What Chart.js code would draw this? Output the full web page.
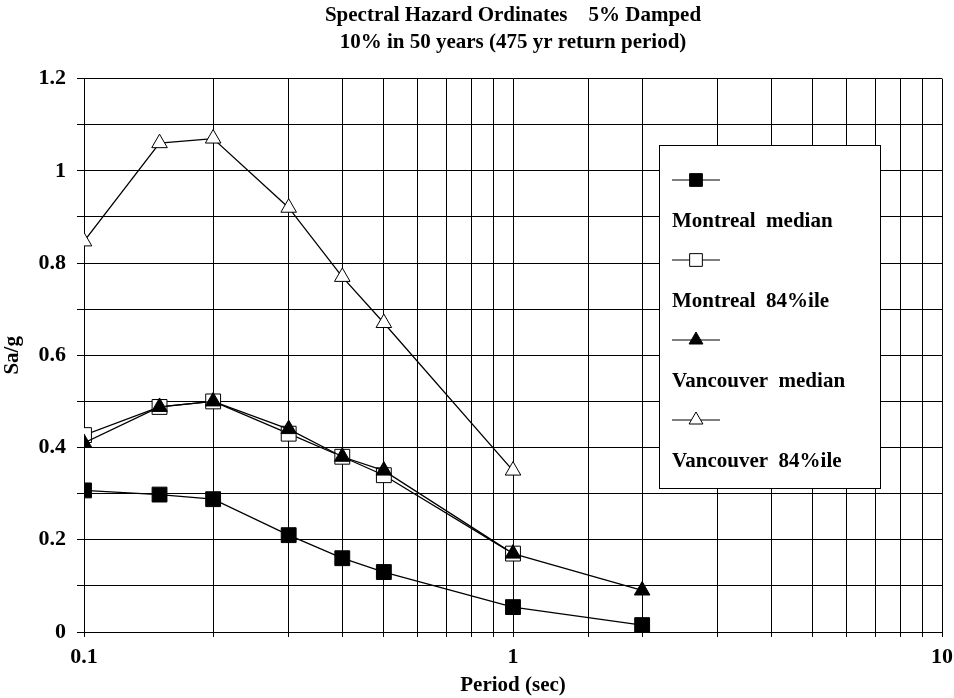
<!DOCTYPE html>
<html>
<head>
<meta charset="utf-8">
<script src="https://cdn.jsdelivr.net/npm/chart.js@4.4.1/dist/chart.umd.min.js"></script>
<style>
  html, body { margin: 0; padding: 0; background: #fff; }
  #wrap { width: 954px; height: 698px; }
</style>
</head>
<body>
<div id="wrap"><canvas id="chart" width="954" height="698"></canvas></div>
<script>
// ── Data ──────────────────────────────────────────────────────
const periods          = [0.1, 0.15, 0.2, 0.3, 0.4, 0.5, 1, 2];
const montrealMedian   = [0.307, 0.298, 0.288, 0.21, 0.16, 0.13, 0.054, 0.015];
const montreal84       = [0.427, 0.488, 0.50, 0.43, 0.38, 0.34, 0.17];
const vancouverMedian  = [0.41, 0.488, 0.50, 0.44, 0.38, 0.35, 0.17, 0.09];
const vancouver84      = [0.847, 1.06, 1.07, 0.92, 0.77, 0.67, 0.35];
const seriesNames      = ["Montreal  median", "Montreal  84%ile", "Vancouver  median", "Vancouver  84%ile"];
const titleLines       = ["Spectral Hazard Ordinates    5% Damped", "10% in 50 years (475 yr return period)"];

const FONT = "'Liberation Serif', 'Times New Roman', serif";

const toPoints = vals => vals.map((v, i) => ({ x: periods[i], y: v }));

// ── Marker styles ─────────────────────────────────────────────
const markers = [
    { pointStyle: "rect",     radius: 10.5, fill: "#000" },
    { pointStyle: "rect",     radius: 10.5, fill: "#fff" },
    { pointStyle: "triangle", radius: 9,    fill: "#000" },
    { pointStyle: "triangle", radius: 9,    fill: "#fff" }
];

function makeDataset(label, vals, idx, order) {
    const m = markers[idx];
    return {
        label,
        data: toPoints(vals),
        borderColor: "#000",
        borderWidth: 1.3,
        pointStyle: m.pointStyle,
        pointRadius: m.radius,
        pointBackgroundColor: m.fill,
        pointBorderColor: "#000",
        pointBorderWidth: 1,
        fill: false,
        tension: 0,
        order
    };
}

// ── Custom legend (marker above label, as in the original) ────
const boxLegend = {
    id: "boxLegend",
    afterDraw(chart) {
        const ctx = chart.ctx;
        const bx = 659, by = 145, bw = 221, bh = 343;
        ctx.save();
        ctx.fillStyle = "#fff";
        ctx.fillRect(bx, by, bw, bh);
        ctx.strokeStyle = "#000";
        ctx.lineWidth = 1;
        ctx.strokeRect(bx + 0.5, by + 0.5, bw, bh);

        ctx.font = "bold 21px " + FONT;
        ctx.textBaseline = "middle";
        chart.data.datasets.forEach((ds, i) => {
            const my = by + 35 + i * 80;
            ctx.beginPath();
            ctx.moveTo(672, my);
            ctx.lineTo(720, my);
            ctx.strokeStyle = "#000";
            ctx.lineWidth = 1;
            ctx.stroke();
            ctx.fillStyle = ds.pointBackgroundColor;
            ctx.strokeStyle = "#000";
            Chart.helpers.drawPoint(ctx, {
                pointStyle: ds.pointStyle,
                radius: ds.pointStyle === "rect" ? 9 : 8,
                rotation: 0,
                borderWidth: 1
            }, 696, my);
            ctx.fillStyle = "#000";
            ctx.fillText(seriesNames[i], 672, my + 42);
        });
        ctx.restore();
    }
};

const whiteBg = {
    id: "whiteBg",
    beforeDraw(chart) {
        const ctx = chart.ctx;
        ctx.save();
        ctx.fillStyle = "#fff";
        ctx.fillRect(0, 0, chart.width, chart.height);
        ctx.restore();
    }
};

// ── Chart ─────────────────────────────────────────────────────
new Chart(document.getElementById("chart"), {
    type: "line",
    data: {
        datasets: [
            makeDataset(seriesNames[0], montrealMedian, 0, 4),
            makeDataset(seriesNames[1], montreal84, 1, 3),
            makeDataset(seriesNames[2], vancouverMedian, 2, 2),
            makeDataset(seriesNames[3], vancouver84, 3, 1)
        ]
    },
    plugins: [whiteBg, boxLegend],
    options: {
        responsive: false,
        animation: false,
        layout: { padding: { left: 0, right: 12, top: 0, bottom: 0 } },
        plugins: {
            legend: { display: false },
            tooltip: { enabled: false },
            title: {
                display: true,
                text: titleLines,
                fullSize: false,
                color: "#000",
                font: { family: FONT, size: 21, weight: "bold", lineHeight: 1.3 },
                padding: { top: 2, bottom: 22 }
            }
        },
        scales: {
            x: {
                type: "logarithmic",
                min: 0.1,
                max: 10,
                afterFit: s => { s.height = 66; s.paddingLeft = 0; s.paddingRight = 0; },
                grid: { color: "#000", lineWidth: 1, tickLength: 5, drawTicks: true },
                border: { color: "#000", width: 1 },
                ticks: {
                    color: "#000",
                    font: { family: FONT, size: 22, weight: "bold" },
                    maxRotation: 0,
                    autoSkip: false,
                    padding: 7,
                    callback: v => {
                        const l = Math.log10(v);
                        return Math.abs(l - Math.round(l)) < 1e-9 ? String(v) : "";
                    }
                },
                title: {
                    display: true,
                    text: "Period (sec)",
                    color: "#000",
                    font: { family: FONT, size: 21, weight: "bold" },
                    padding: { top: -4, bottom: 0 }
                }
            },
            y: {
                min: 0,
                max: 1.2,
                afterFit: s => { s.width = 84; },
                grid: { color: "#000", lineWidth: 1, tickLength: 7 },
                border: { color: "#000", width: 1 },
                ticks: {
                    stepSize: 0.1,
                    color: "#000",
                    font: { family: FONT, size: 22, weight: "bold" },
                    padding: 11,
                    callback: v => {
                        const k = Math.round(v * 10);
                        return k % 2 === 0 ? String(k / 10) : "";
                    }
                },
                title: {
                    display: true,
                    text: "Sa/g",
                    color: "#000",
                    font: { family: FONT, size: 21, weight: "bold" },
                    padding: { top: 0, bottom: 0 }
                }
            }
        }
    }
});
</script>
</body>
</html>
